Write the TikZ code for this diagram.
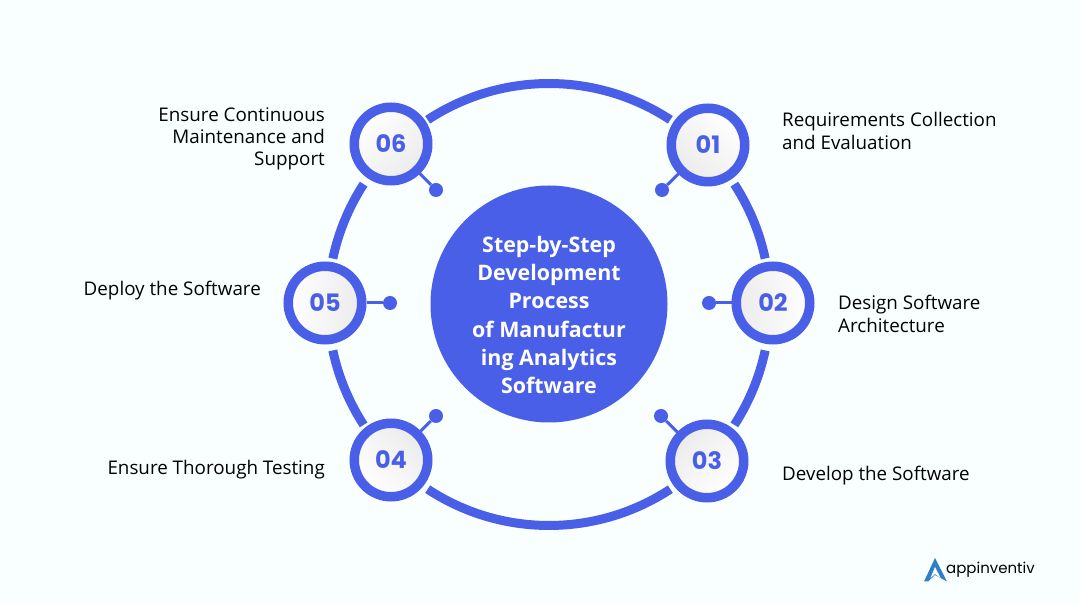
\documentclass[tikz,border=0pt]{standalone}
\usepackage{fontspec}
\setmainfont{Open Sans}
\newfontfamily\numfont{Poppins}
\newfontfamily\logofont{Poppins}
\definecolor{bluemain}{HTML}{4A5FE8}
\definecolor{bgcol}{HTML}{F8FFFE}
\definecolor{logoblue}{HTML}{2F7FC4}
\definecolor{lightg}{HTML}{EBEBEB}
\tikzset{
 x=1pt,y=1pt,
 stepcircle/.style={circle,draw=bluemain,line width=9.5pt,minimum size=73.5pt,inner sep=0pt,outer sep=4.75pt,text=bluemain,font=\numfont\bfseries\fontsize{24}{24}\selectfont,left color=white,right color=lightg},
 ringarc/.style={draw=bluemain,line width=9pt},
 dotnode/.style={circle,fill=bluemain,minimum size=14pt,inner sep=0pt},
 stem/.style={draw=bluemain,line width=3pt},
 lab/.style={text=black,font=\fontsize{18.8}{22.3}\selectfont,inner sep=0pt},
}
\begin{document}
\begin{tikzpicture}
\useasboundingbox (0,0) rectangle (1080,605);
\fill[bgcol] (0,0) rectangle (1080,605);
\coordinate (c) at (549,300.5);
\foreach \a/\b in {123.3/56.7,33/12,-12/-33,-56.7/-123.3,-147/-168,168/147}{
  \draw[ringarc] ([shift={(\a:221pt)}]c) arc[start angle=\a,end angle=\b,radius=221pt];
}
\node[circle,fill=bluemain,minimum size=237pt,inner sep=0pt] (center) at (549,301) {};
\node[text=white,align=center,inner sep=0pt,font=\bfseries\fontsize{21.4}{28.2}\selectfont] (title) at (549,290) {Step-by-Step\\Development\\Process\\of Manufactur\\ing Analytics\\Software};

\node[stepcircle,shading angle=315] (n01) at (708,460) {01};
\node[stepcircle,shading angle=270] (n02) at (773,302) {02};
\node[stepcircle,shading angle=225] (n03) at (707,144) {03};
\node[stepcircle,shading angle=135] (n04) at (391,145) {04};
\node[stepcircle,shading angle=90] (n05) at (325,302) {05};
\node[stepcircle,shading angle=45] (n06) at (391,461) {06};

\node[dotnode] (d01) at (662,415) {};
\node[dotnode] (d02) at (709,302) {};
\node[dotnode] (d03) at (661,189) {};
\node[dotnode] (d04) at (436,189) {};
\node[dotnode] (d05) at (390,302) {};
\node[dotnode] (d06) at (436,415) {};
\foreach \i in {01,02,03,04,05,06}{\draw[stem] (n\i) -- (d\i);}

\node[lab,anchor=west,align=left] (t01) at (782,474) {Requirements Collection\\and Evaluation};
\node[lab,anchor=west,align=left] (t02) at (838,291) {Design Software\\Architecture};
\node[lab,anchor=west] (t03) at (782,129.5) {Develop the Software};
\node[lab,anchor=east] (t04) at (325,135.5) {Ensure Thorough Testing};
\node[lab,anchor=east] (t05) at (261,314) {Deploy the Software};
\node[lab,anchor=east,align=right] (t06) at (325,466) {Ensure Continuous\\Maintenance and\\Support};

\fill[logoblue] (935,47) -- (947,23.5) -- (935,30) -- (928,23.5) -- (924,23.5) -- cycle;
\fill[bgcol] (935,38) -- (941,26.5) -- (935,31) -- (930.5,27) -- cycle;
\node[inner sep=0pt,anchor=west,text=black,font=\logofont\fontsize{15}{15}\selectfont] (logo) at (946,35.5) {appinventiv};
\end{tikzpicture}
\end{document}
